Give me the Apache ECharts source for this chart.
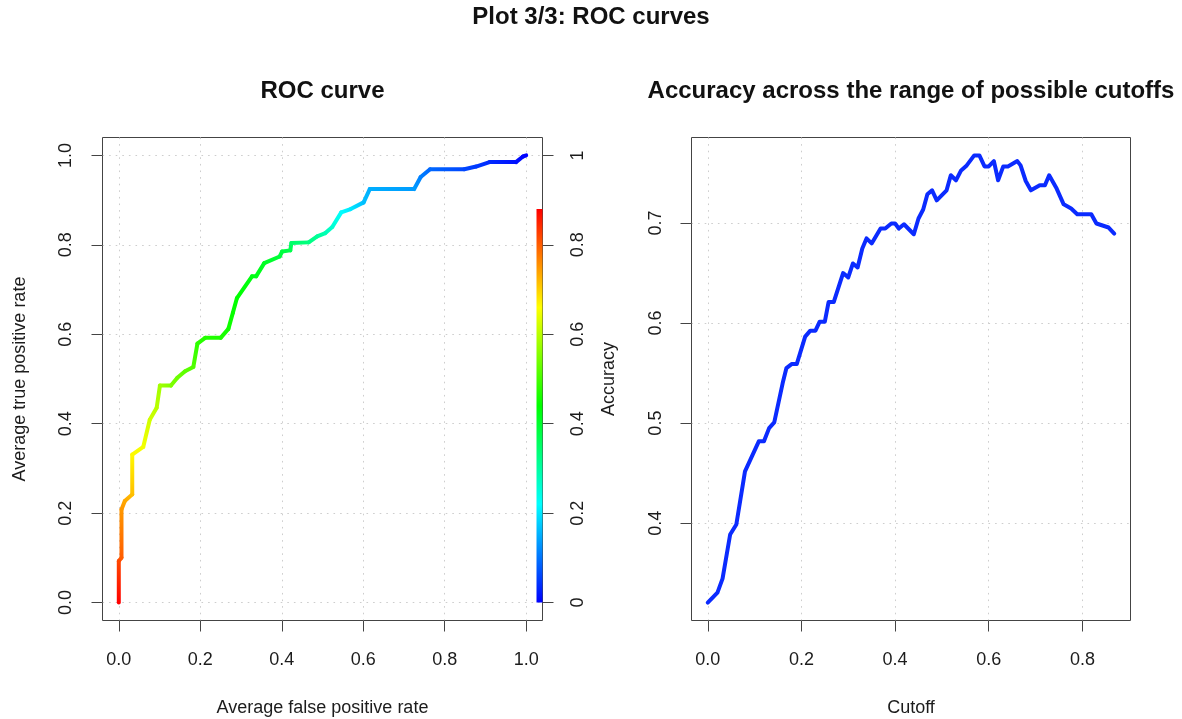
<!DOCTYPE html>
<html>
<head>
<meta charset="utf-8">
<script src="https://cdn.jsdelivr.net/npm/echarts@6/dist/echarts.min.js"></script>
<style>
  html, body { margin: 0; padding: 0; background: #ffffff; }
  #chart { width: 1182px; height: 719px; }
</style>
</head>
<body>
<div id="chart"></div>
<script>
// Averaged ROC curve; every point carries the cutoff it was computed at
const rocFpr = [0, 0, 0.0066, 0.0066, 0.0148, 0.033, 0.033, 0.06, 0.076, 0.093,
  0.101, 0.128, 0.1437, 0.1626, 0.183, 0.193, 0.212, 0.25, 0.269, 0.28,
  0.29, 0.327, 0.337, 0.357, 0.395, 0.4007, 0.421, 0.4236, 0.466, 0.487,
  0.507, 0.524, 0.546, 0.569, 0.601, 0.616, 0.725, 0.741, 0.764, 0.848,
  0.877, 0.91, 0.975, 0.992, 1];
const rocTpr = [0, 0.093, 0.1005, 0.2084, 0.227, 0.242, 0.331, 0.348, 0.409, 0.4356,
  0.4854, 0.4854, 0.5026, 0.5173, 0.527, 0.5792, 0.592, 0.592, 0.612, 0.648,
  0.681, 0.7295, 0.7295, 0.759, 0.774, 0.785, 0.7876, 0.804, 0.8055, 0.819,
  0.8264, 0.84, 0.8725, 0.88, 0.895, 0.9247, 0.9247, 0.9515, 0.969, 0.969,
  0.975, 0.985, 0.985, 0.9975, 1];
const rocCutoff = [0.88, 0.82, 0.8, 0.75, 0.735, 0.715, 0.665, 0.65, 0.62, 0.6,
  0.58, 0.55, 0.535, 0.52, 0.51, 0.48, 0.47, 0.465, 0.455, 0.445,
  0.44, 0.425, 0.42, 0.41, 0.39, 0.385, 0.375, 0.35, 0.33, 0.31,
  0.285, 0.26, 0.22, 0.2, 0.165, 0.15, 0.135, 0.11, 0.09, 0.06,
  0.05, 0.035, 0.015, 0.005, 0];

// Accuracy across the cutoffs
const accCutoff = [0, 0.0207, 0.0316, 0.0478, 0.061, 0.0795, 0.109, 0.12, 0.131, 0.142,
  0.16, 0.168, 0.179, 0.19, 0.208, 0.219, 0.23, 0.239, 0.25, 0.258,
  0.269, 0.289, 0.3, 0.31, 0.32, 0.33, 0.339, 0.35, 0.369, 0.379,
  0.392, 0.4, 0.408, 0.419, 0.44, 0.45, 0.46, 0.469, 0.479, 0.489,
  0.51, 0.519, 0.53, 0.541, 0.553, 0.569, 0.58, 0.591, 0.6, 0.611,
  0.62, 0.631, 0.641, 0.661, 0.668, 0.679, 0.69, 0.709, 0.72, 0.729,
  0.745, 0.76, 0.776, 0.789, 0.819, 0.83, 0.856, 0.868];
const accValue = [0.3206, 0.3306, 0.3446, 0.3887, 0.3987, 0.4518, 0.4818, 0.4818, 0.495, 0.5007,
  0.54, 0.555, 0.559, 0.559, 0.5865, 0.5924, 0.5924, 0.6014, 0.6014, 0.621,
  0.621, 0.65, 0.6457, 0.6596, 0.6556, 0.6746, 0.6846, 0.6796, 0.6945, 0.6945,
  0.6995, 0.6995, 0.6945, 0.6988, 0.6888, 0.7045, 0.7135, 0.7287, 0.7327, 0.7227,
  0.7327, 0.7477, 0.7427, 0.7526, 0.7576, 0.7676, 0.7676, 0.7566, 0.7566, 0.7619,
  0.7427, 0.7566, 0.7566, 0.7619, 0.7576, 0.742, 0.7327, 0.7377, 0.7377, 0.7477,
  0.7344, 0.7187, 0.7145, 0.7088, 0.7088, 0.6995, 0.6955, 0.6895];

// Tick positions
const rateTicks = [0, 0.2, 0.4, 0.6, 0.8, 1];
const cutoffTicks = [0, 0.2, 0.4, 0.6, 0.8];
const accTicks = [0.4, 0.5, 0.6, 0.7];

const FONT = '"Liberation Sans", Arial, Helvetica, sans-serif';
const INK = '#1c1c1c';
const FRAME = '#444444';
const RAINBOW = ['#0000ff', '#00ffff', '#00ff00', '#ffff00', '#ff0000'];

// Axis range with the usual 4% breathing room on both sides
function padded(values) {
  const lo = Math.min.apply(null, values);
  const hi = Math.max.apply(null, values);
  const p = (hi - lo) * 0.04;
  return [lo - p, hi + p];
}

function hexToRgb(h) {
  return [parseInt(h.slice(1, 3), 16), parseInt(h.slice(3, 5), 16), parseInt(h.slice(5, 7), 16)];
}
// Blue -> cyan -> green -> yellow -> red, t in [0, 1]
function rainbow(t) {
  t = Math.max(0, Math.min(1, t));
  const s = t * (RAINBOW.length - 1);
  const i = Math.min(Math.floor(s), RAINBOW.length - 2);
  const f = s - i;
  const a = hexToRgb(RAINBOW[i]);
  const b = hexToRgb(RAINBOW[i + 1]);
  const c = a.map((v, k) => Math.round(v + (b[k] - v) * f));
  return 'rgb(' + c.join(',') + ')';
}

const fprRange = padded(rocFpr);
const tprRange = padded(rocTpr);
const cutRange = padded(accCutoff);
const accRange = padded(accValue);
const cbMin = Math.min.apply(null, rocCutoff);
const cbMax = Math.max.apply(null, rocCutoff);
const cbNorm = (c) => (c - cbMin) / (cbMax - cbMin);

const labelStyle = { fontSize: 18, color: INK, fontFamily: FONT };
const nameStyle = { fontSize: 18, color: INK, fontFamily: FONT };
const gridLine = { show: true, lineStyle: { color: '#cdcdcd', width: 1, type: [1.6, 5] } };

function valueAxis(o) {
  return Object.assign({
    type: 'value',
    axisLine: { show: false, onZero: false },
    axisTick: { show: true, inside: false, length: 11, customValues: o.ticks,
      lineStyle: { color: FRAME, width: 1 } },
    axisLabel: Object.assign({ customValues: o.ticks, formatter: o.fmt, margin: o.margin,
      rotate: o.rotate || 0 }, labelStyle),
    splitLine: o.split === false ? { show: false } : gridLine,
    nameLocation: 'middle',
    nameTextStyle: nameStyle
  }, o.extra);
}

const fmt1 = (v) => Number(v).toFixed(1);
const fmtShort = (v) => String(Number(Number(v).toFixed(1)));

const chart = echarts.init(document.getElementById('chart'), null, { renderer: 'canvas' });

chart.setOption({
  animation: false,
  backgroundColor: '#ffffff',
  textStyle: { fontFamily: FONT },
  grid: [
    { left: 102.5, top: 137.5, width: 440, height: 483, show: true, outerBoundsMode: 'none',
      borderColor: FRAME, borderWidth: 1, backgroundColor: 'transparent', containLabel: false },
    { left: 691.5, top: 137.5, width: 439, height: 483, show: true, outerBoundsMode: 'none',
      borderColor: FRAME, borderWidth: 1, backgroundColor: 'transparent', containLabel: false }
  ],
  xAxis: [
    valueAxis({ ticks: rateTicks, fmt: fmt1, margin: 31, extra: {
      gridIndex: 0, min: fprRange[0], max: fprRange[1],
      name: 'Average false positive rate', nameGap: 79 } }),
    valueAxis({ ticks: cutoffTicks, fmt: fmt1, margin: 31, extra: {
      gridIndex: 1, min: cutRange[0], max: cutRange[1],
      name: 'Cutoff', nameGap: 79 } })
  ],
  yAxis: [
    valueAxis({ ticks: rateTicks, fmt: fmt1, margin: 27, rotate: 90, extra: {
      gridIndex: 0, position: 'left', min: tprRange[0], max: tprRange[1],
      name: 'Average true positive rate', nameRotate: 90, nameGap: 73 } }),
    valueAxis({ ticks: rateTicks, fmt: fmtShort, margin: 27, rotate: 90, split: false, extra: {
      gridIndex: 0, position: 'right', min: tprRange[0], max: tprRange[1] } }),
    valueAxis({ ticks: accTicks, fmt: fmt1, margin: 26, rotate: 90, extra: {
      gridIndex: 1, position: 'left', min: accRange[0], max: accRange[1],
      name: 'Accuracy', nameRotate: 90, nameGap: 73 } })
  ],
  series: [
    {
      // ROC curve, each segment shaded by its cutoff
      type: 'custom',
      name: 'ROC',
      xAxisIndex: 0,
      yAxisIndex: 0,
      encode: { x: 0, y: 1 },
      data: rocFpr.map((x, i) => [x, rocTpr[i], rocCutoff[i]]),
      renderItem: function (params, api) {
        const i = params.dataIndex;
        if (i === 0) return { type: 'group', children: [] };
        const a = api.coord([rocFpr[i - 1], rocTpr[i - 1]]);
        const b = api.coord([api.value(0), api.value(1)]);
        return {
          type: 'line',
          shape: { x1: a[0], y1: a[1], x2: b[0], y2: b[1] },
          style: {
            stroke: {
              type: 'linear', global: true,
              x: a[0], y: a[1], x2: b[0], y2: b[1],
              colorStops: [
                { offset: 0, color: rainbow(cbNorm(rocCutoff[i - 1])) },
                { offset: 1, color: rainbow(cbNorm(api.value(2))) }
              ]
            },
            lineWidth: 4,
            lineCap: 'round'
          }
        };
      }
    },
    {
      // Colour key for the cutoff, laid against the right-hand axis
      type: 'custom',
      name: 'Cutoff key',
      xAxisIndex: 0,
      yAxisIndex: 1,
      data: [[fprRange[1], cbMin, cbMax]],
      encode: { x: 0, y: [1, 2] },
      renderItem: function (params, api) {
        const top = api.coord([api.value(0), api.value(2)]);
        const bottom = api.coord([api.value(0), api.value(1)]);
        const w = 6;
        return {
          type: 'rect',
          shape: { x: top[0] - w, y: top[1], width: w, height: bottom[1] - top[1] },
          style: {
            fill: {
              type: 'linear', x: 0, y: 1, x2: 0, y2: 0,
              colorStops: RAINBOW.map((c, k) => ({ offset: k / (RAINBOW.length - 1), color: c }))
            }
          }
        };
      }
    },
    {
      type: 'line',
      name: 'Accuracy',
      xAxisIndex: 1,
      yAxisIndex: 2,
      data: accCutoff.map((c, i) => [c, accValue[i]]),
      showSymbol: false,
      symbol: 'none',
      lineStyle: { color: '#0b2bff', width: 4, join: 'round', cap: 'round' }
    }
  ],
  graphic: [
    { type: 'text', x: 591, y: 17, silent: true,
      style: { text: 'Plot 3/3: ROC curves', fontSize: 24, fontWeight: 'bold', fontFamily: FONT,
        fill: '#111111', align: 'center', verticalAlign: 'middle' } },
    { type: 'text', x: 322.5, y: 91, silent: true,
      style: { text: 'ROC curve', fontSize: 24, fontWeight: 'bold', fontFamily: FONT,
        fill: '#111111', align: 'center', verticalAlign: 'middle' } },
    { type: 'text', x: 911, y: 91, silent: true,
      style: { text: 'Accuracy across the range of possible cutoffs', fontSize: 24, fontWeight: 'bold',
        fontFamily: FONT, fill: '#111111', align: 'center', verticalAlign: 'middle' } }
  ]
});
</script>
</body>
</html>
